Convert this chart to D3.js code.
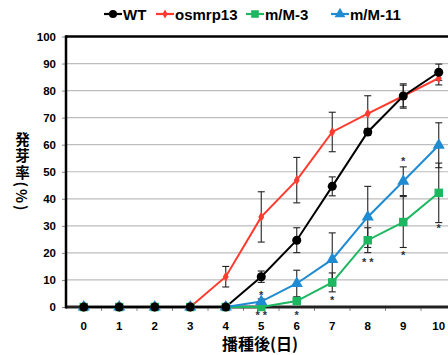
<!DOCTYPE html>
<html><head><meta charset="utf-8">
<script src="https://cdn.jsdelivr.net/npm/d3@7"></script>
<style>
body{margin:0;background:#fff;position:relative;}
svg{display:block;}
#ytitle{position:absolute;left:14px;top:132px;writing-mode:vertical-rl;text-orientation:mixed;
  font-family:'Noto Sans CJK JP',sans-serif;font-weight:bold;font-size:14.5px;line-height:16px;letter-spacing:2px;color:#000;white-space:nowrap;}
</style>
</head><body>
<script>
const days = [0,1,2,3,4,5,6,7,8,9,10];
const yTicks = [0,10,20,30,40,50,60,70,80,90,100];
const seriesNames = ["WT","osmrp13","m/M-3","m/M-11"];
const wtVals   = [0,0,0,0,0,11.2,24.7,44.6,64.7,78,86.8];
const wtErr    = [0,0,0,0,0,2.1,4.6,3.5,1.2,4,3];
const osVals   = [0,0,0,0,11.2,33.3,46.9,64.7,71.5,78,84.6];
const osErr    = [0,0,0,0,3.8,9.3,8.4,7.3,6.6,4.5,2.5];
const m3Vals   = [0,0,0,0,0,0,2.2,9.1,24.7,31.4,42.2];
const m3Err    = [0,0,0,0,0,0,0,3.5,4.6,9.4,11];
const m11Vals  = [0,0,0,0,0,2,8.7,17.6,33.3,46.5,59.8];
const m11Err   = [0,0,0,0,0,1,4.9,9.8,11.3,5.3,8.3];
const colors   = ["#000000","#FF3B30","#1DB762","#1E8BD3"];
// significance marks: [day, value-position, label]
const sigMarks = [[5,4.8,"*"],[5,-2.8,"* *"],[6,-2.8,"*"],[7,2.7,"*"],[8,17,"* *"],[9,54,"*"],[9,19.5,"*"],[10,29.5,"*"]];

(function(){
const W=448,H=355;
const svg=d3.select("body").append("svg").attr("width",W).attr("height",H);
const left=66, topY=36.5, bottom=307;
const x=d3.scaleBand().domain(days).range([left,left+11*35.5]);
const y=d3.scaleLinear().domain([0,100]).range([bottom,topY]);
const cx=d=>x(d)+x.bandwidth()/2;

// gridlines
svg.append("g").selectAll("line").data(yTicks.filter(t=>t>0&&t<100)).join("line")
  .attr("x1",left).attr("x2",W).attr("y1",d=>y(d)).attr("y2",d=>y(d))
  .attr("stroke","#BDBDBD").attr("stroke-width",1.2);

// y axis
const ya=svg.append("g").attr("transform",`translate(${left},0)`)
  .call(d3.axisLeft(y).tickValues(yTicks).tickSize(4).tickPadding(6));
ya.select(".domain").remove();
ya.selectAll(".tick line").attr("stroke","#888");
ya.selectAll("text").attr("font-family","Arial, Liberation Sans, sans-serif").attr("font-weight","bold").attr("font-size","11.5px").attr("fill","#000");

// x axis
const xa=svg.append("g").attr("transform",`translate(0,${bottom})`)
  .call(d3.axisBottom(x).tickSize(0).tickPadding(15));
xa.select(".domain").remove();
xa.selectAll("text").attr("font-family","Arial, Liberation Sans, sans-serif").attr("font-weight","bold").attr("font-size","11.5px").attr("fill","#000");
svg.append("g").selectAll("line").data(days).join("line")
  .attr("x1",d=>x(d)+x.bandwidth()).attr("x2",d=>x(d)+x.bandwidth())
  .attr("y1",bottom).attr("y2",bottom+4).attr("stroke","#888");

// frame
svg.append("line").attr("x1",left).attr("x2",W).attr("y1",topY).attr("y2",topY).attr("stroke","#000").attr("stroke-width",2.5);
svg.append("line").attr("x1",left).attr("x2",W).attr("y1",bottom).attr("y2",bottom).attr("stroke","#222").attr("stroke-width",3);
svg.append("line").attr("x1",left).attr("x2",left).attr("y1",topY-1.2).attr("y2",bottom+1.5).attr("stroke","#000").attr("stroke-width",2.5);

const series=[
  {name:seriesNames[0],vals:wtVals,err:wtErr,color:colors[0],shape:"circle"},
  {name:seriesNames[1],vals:osVals,err:osErr,color:colors[1],shape:"star"},
  {name:seriesNames[2],vals:m3Vals,err:m3Err,color:colors[2],shape:"square"},
  {name:seriesNames[3],vals:m11Vals,err:m11Err,color:colors[3],shape:"triangle"}
];
const symType={circle:d3.symbolCircle,star:d3.symbolDiamond,square:d3.symbolSquare,triangle:d3.symbolTriangle};
const symSize={circle:64,star:30,square:72,triangle:64};

// error bars
series.forEach(s=>{
  const g=svg.append("g");
  const d=days.map((dd,i)=>({d:dd,v:s.vals[i],e:s.err[i]})).filter(o=>o.e>0);
  g.selectAll("line.v").data(d).join("line").attr("x1",o=>cx(o.d)).attr("x2",o=>cx(o.d))
    .attr("y1",o=>y(o.v+o.e)).attr("y2",o=>y(o.v-o.e)).attr("stroke","#222").attr("stroke-width",1.1);
  [1,-1].forEach(sg=>{
    g.selectAll("line.c"+(sg>0?"p":"m")).data(d).join("line").attr("class","c"+(sg>0?"p":"m"))
      .attr("x1",o=>cx(o.d)-3.5).attr("x2",o=>cx(o.d)+3.5)
      .attr("y1",o=>y(o.v+sg*o.e)).attr("y2",o=>y(o.v+sg*o.e)).attr("stroke","#222").attr("stroke-width",1.1);
  });
});

// lines + markers
const line=d3.line().x((v,i)=>cx(days[i])).y(v=>y(v));
[2,3,1,0].forEach(k=>{
  const s=series[k];
  svg.append("path").attr("d",line(s.vals)).attr("fill","none").attr("stroke",s.color).attr("stroke-width",2);
});
[2,3,1,0].forEach(k=>{
  const s=series[k];
  svg.append("g").selectAll("path").data(s.vals).join("path")
    .attr("transform",(v,i)=>`translate(${cx(days[i])},${y(v)})`)
    .attr("d",d3.symbol().type(symType[s.shape]).size(symSize[s.shape]))
    .attr("fill",s.color);
});

// significance asterisks
svg.append("g").selectAll("text").data(sigMarks).join("text")
  .attr("x",m=>cx(m[0])).attr("y",m=>y(m[1])+4.5).attr("text-anchor","middle")
  .attr("font-family","Arial, Liberation Sans, sans-serif").attr("font-size","11px").attr("font-weight","bold")
  .attr("fill","#2a3344").text(m=>m[2]);

// legend
const legX=[104,156,246,331];
series.forEach((s,i)=>{
  const g=svg.append("g").attr("transform",`translate(${legX[i]},14)`);
  g.append("line").attr("x1",0).attr("x2",18).attr("y1",0).attr("y2",0).attr("stroke",s.color).attr("stroke-width",2.2);
  g.append("path").attr("transform","translate(9,0)").attr("d",d3.symbol().type(symType[s.shape]).size(symSize[s.shape]*0.8)()).attr("fill",s.color);
  g.append("text").attr("x",19).attr("y",5.5).attr("font-family","Arial, Liberation Sans, sans-serif")
    .attr("font-weight","bold").attr("font-size","15px").attr("fill","#000").text(s.name);
});

// x title
svg.append("text").attr("x",260).attr("y",350).attr("text-anchor","middle")
  .attr("font-family","'Noto Sans CJK JP', sans-serif").attr("font-weight","bold").attr("font-size","16px").attr("fill","#000").text("播種後(日)");

// y title: vertical writing (CJK upright, "(%)" sideways)
d3.select("body").append("div").attr("id","ytitle").text("発芽率(%)");
})();
</script>
</body></html>
